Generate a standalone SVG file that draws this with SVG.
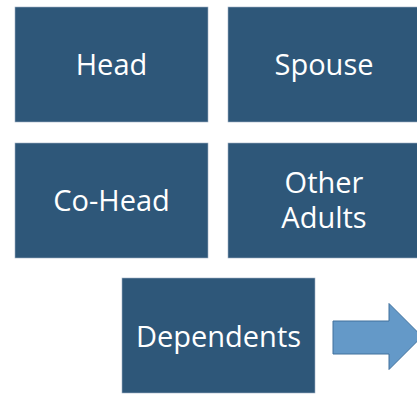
<svg xmlns="http://www.w3.org/2000/svg" width="417" height="396" viewBox="0 0 417 396">
<style>
.box{fill:#2e5779;stroke:#9fb0c4;stroke-width:0.6}
.t{font-family:"Open Sans","Liberation Sans",sans-serif;font-size:29px;fill:#ffffff;text-anchor:middle}
.arrow{fill:#6499c8;stroke:#41719c;stroke-width:1}
</style>
<rect width="417" height="396" fill="#ffffff"/>
<g id="head"><rect class="box" x="15" y="7" width="193" height="115"/><text class="t" x="111.5" y="75">Head</text></g>
<g id="spouse"><rect class="box" x="228" y="7" width="193" height="115"/><text class="t" x="324" y="75">Spouse</text></g>
<g id="cohead"><rect class="box" x="15" y="143" width="193" height="115"/><text class="t" x="111.5" y="211">Co-Head</text></g>
<g id="other"><rect class="box" x="228" y="143" width="193" height="115"/><text class="t" x="324" y="193">Other</text><text class="t" x="324" y="228">Adults</text></g>
<g id="dependents"><rect class="box" x="122" y="278" width="193" height="115"/><text class="t" x="218.5" y="347">Dependents</text></g>
<g id="connectors"><path class="arrow" d="M333,321 H389 V303.5 L422,336.5 L389,369.5 V354 H333 Z"/></g>
</svg>
